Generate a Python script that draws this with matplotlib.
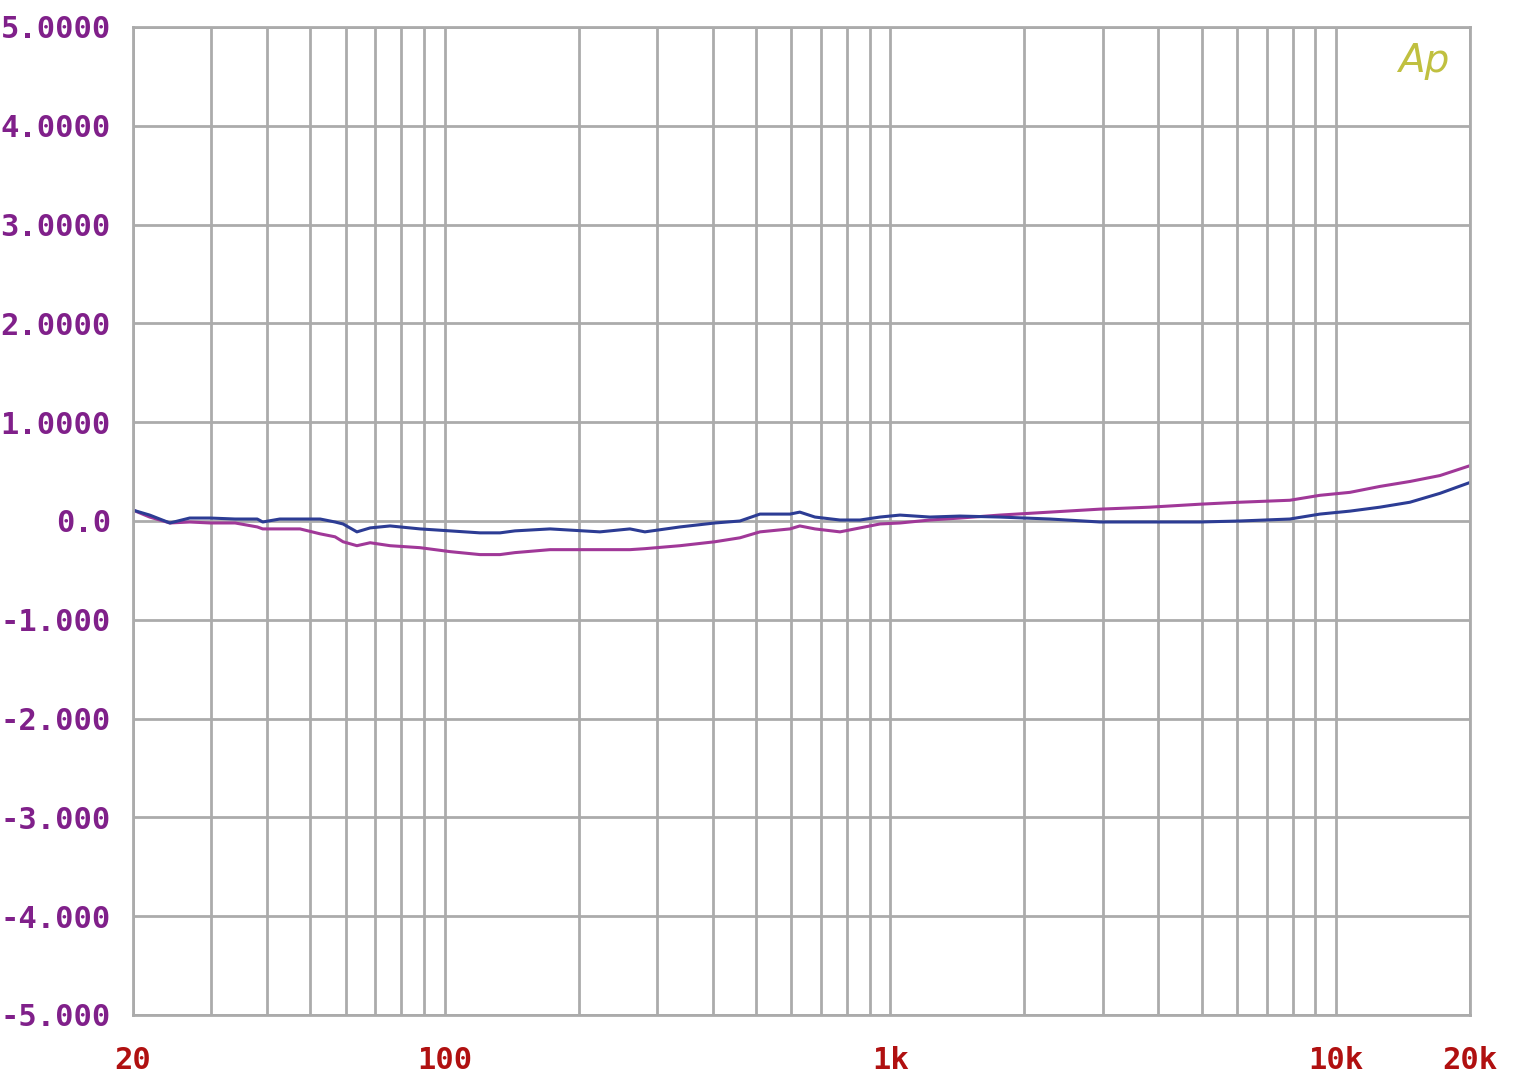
import numpy as np
import matplotlib.pyplot as plt
from matplotlib.ticker import FixedLocator, NullFormatter

# frequency points (Hz)
freq = [20, 21.8, 24.2, 26.8, 29.8, 33.9, 38.0, 39.1, 42.7, 47.4, 52.6, 56.8,
        59.2, 63.6, 68.1, 75.5, 88.1, 102.9, 120.1, 133.2, 143.9, 172.5, 223.2,
        260.6, 281.6, 337.6, 404.4, 460.2, 510.2, 596, 627, 678, 771.6, 855.6,
        948.7, 1052, 1228, 1434, 1763, 2283, 2955, 3826, 4954, 6091, 7886,
        9210, 10756, 12558, 14664, 17126, 20000]

# blue channel (dB)
blue = [0.11, 0.06, -0.02, 0.03, 0.03, 0.02, 0.02, -0.01, 0.02, 0.02, 0.02, -0.01,
        -0.03, -0.11, -0.07, -0.05, -0.08, -0.10, -0.12, -0.12, -0.10, -0.08, -0.11,
        -0.08, -0.11, -0.06, -0.02, 0.0, 0.07, 0.07, 0.09, 0.04, 0.01, 0.01,
        0.04, 0.06, 0.04, 0.05, 0.04, 0.02, -0.01, -0.01, -0.01, 0.0, 0.02,
        0.07, 0.10, 0.14, 0.19, 0.28, 0.39]

# magenta channel (dB)
magenta = [0.11, 0.04, -0.02, -0.01, -0.02, -0.02, -0.06, -0.08, -0.08, -0.08, -0.13, -0.16,
           -0.21, -0.25, -0.22, -0.25, -0.27, -0.31, -0.34, -0.34, -0.32, -0.29, -0.29,
           -0.29, -0.28, -0.25, -0.21, -0.17, -0.11, -0.08, -0.05, -0.08, -0.11, -0.07,
           -0.03, -0.02, 0.01, 0.03, 0.06, 0.09, 0.12, 0.14, 0.17, 0.19, 0.21,
           0.26, 0.29, 0.35, 0.40, 0.46, 0.56]

y_ticks = [5, 4, 3, 2, 1, 0, -1, -2, -3, -4, -5]
y_labels = ["5.0000", "4.0000", "3.0000", "2.0000", "1.0000", "0.0",
            "-1.000", "-2.000", "-3.000", "-4.000", "-5.000"]
x_ticks = [20, 100, 1000, 10000, 20000]
x_labels = ["20", "100", "1k", "10k", "20k"]

grid_color = '#ababab'

fig = plt.figure(figsize=(15.17, 10.8), dpi=100)
ax = fig.add_axes([133/1517, 65/1080, 1337/1517, 988/1080])

ax.plot(freq, magenta, color='#a03898', linewidth=2.2)
ax.plot(freq, blue, color='#2c3c94', linewidth=2.2)

ax.set_xscale('log')
ax.set_xlim(20, 20000)
ax.set_ylim(-5, 5)

# major and minor grid lines
minor = [f * d for d in (10, 100, 1000) for f in range(1, 10)]
minor = [m for m in minor if 20 < m < 20000 and m not in x_ticks]
ax.xaxis.set_major_locator(FixedLocator(x_ticks))
ax.xaxis.set_minor_locator(FixedLocator(minor))
ax.xaxis.set_minor_formatter(NullFormatter())
ax.set_xticklabels(x_labels)
ax.set_yticks(y_ticks)
ax.set_yticklabels(y_labels)
ax.grid(True, which='both', color=grid_color, linewidth=2)
ax.set_axisbelow(True)

ax.tick_params(which='both', length=0)
ax.tick_params(axis='y', pad=16, labelsize=22, labelcolor='#80208a')
ax.tick_params(axis='x', pad=22, labelsize=22, labelcolor='#b01010')
for lbl in ax.get_xticklabels() + ax.get_yticklabels():
    lbl.set_family('DejaVu Sans Mono')
    lbl.set_fontweight('bold')

for s in ax.spines.values():
    s.set_color(grid_color)
    s.set_linewidth(2)

ax.text(0.965, 0.966, "Ap", transform=ax.transAxes, color='#c0c040',
        fontsize=28, fontstyle='italic', ha='center', va='center')

fig.savefig('out.png', dpi=100)
